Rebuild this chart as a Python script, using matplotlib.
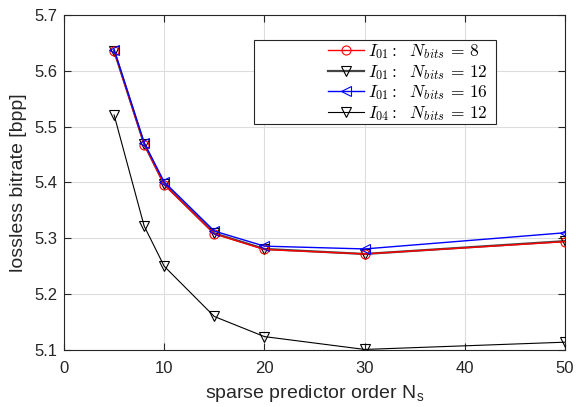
import matplotlib
matplotlib.use("Agg")
import matplotlib.pyplot as plt
from matplotlib.patches import Rectangle

order = [5, 8, 10, 15, 20, 30, 50]
i01_n8 = [5.636, 5.468, 5.396, 5.308, 5.280, 5.272, 5.294]
i01_n12 = [5.636, 5.469, 5.397, 5.309, 5.281, 5.272, 5.295]
i01_n16 = [5.638, 5.471, 5.401, 5.313, 5.286, 5.281, 5.310]
i04_n12 = [5.521, 5.322, 5.250, 5.160, 5.124, 5.101, 5.114]

labels = [r"$I_{01}:\ \ N_{bits}\,=\,8$", r"$I_{01}:\ \ N_{bits}\,=\,12$",
          r"$I_{01}:\ \ N_{bits}\,=\,16$", r"$I_{04}:\ \ N_{bits}\,=\,12$"]

plt.rcParams["font.family"] = ["Liberation Sans", "DejaVu Sans"]
plt.rcParams["mathtext.fontset"] = "cm"

fig = plt.figure(figsize=(5.76, 4.07), dpi=100)
ax = fig.add_axes([64 / 576, 1 - 350 / 407, 501 / 576, 335 / 407])

ax.plot(order, i01_n8, color="red", lw=1.0, marker="o", ms=6.5, mfc="none",
        mec="red", mew=0.8, label=labels[0], zorder=3)
ax.plot(order, i01_n12, color="#444444", lw=1.6, marker="v", ms=6.5, mfc="none",
        mec="black", mew=0.8, label=labels[1], zorder=2)
ax.plot(order, i01_n16, color="blue", lw=1.0, marker="<", ms=6.5, mfc="none",
        mec="blue", mew=0.8, label=labels[2], zorder=4)
ax.plot(order, i04_n12, color="black", lw=0.8, marker="v", ms=6.5, mfc="none",
        mec="black", mew=0.8, label=labels[3], zorder=3)

ax.set_xlim(0, 50)
ax.set_ylim(5.1, 5.7)
ax.set_xticks([0, 10, 20, 30, 40, 50])
ax.set_yticks([5.1, 5.2, 5.3, 5.4, 5.5, 5.6, 5.7])
ax.grid(True, color="#dddddd", lw=0.8)
ax.set_axisbelow(True)
ax.tick_params(direction="in", length=5, width=0.8, labelsize=12, colors="#262626",
               top=True, right=True)
ax.tick_params(axis="x", pad=8)
ax.tick_params(axis="y", pad=5)
for s in ax.spines.values():
    s.set_color("#262626")
    s.set_linewidth(0.8)

ax.set_xlabel(r"sparse predictor order N$_\mathregular{s}$", fontsize=14, color="#262626", labelpad=5)
ax.set_ylabel("lossless bitrate [bpp]", fontsize=14, color="#262626", labelpad=5)

# legend box (MATLAB style: wide frame, entries pushed to the right)
box = Rectangle((254 / 576, 1 - 124 / 407), 242 / 576, 84 / 407, transform=fig.transFigure,
                facecolor="white", edgecolor="#262626", lw=0.8, zorder=5, clip_on=False)
ax.add_patch(box)
leg = ax.legend(loc="upper left", bbox_to_anchor=(328 / 576, 1 - 42 / 407),
                bbox_transform=fig.transFigure, fontsize=12.5, frameon=False,
                handlelength=2.1, borderpad=0, labelspacing=0.1, handletextpad=0.2,
                borderaxespad=0)
leg.set_zorder(6)

fig.savefig("out.png", dpi=100)
